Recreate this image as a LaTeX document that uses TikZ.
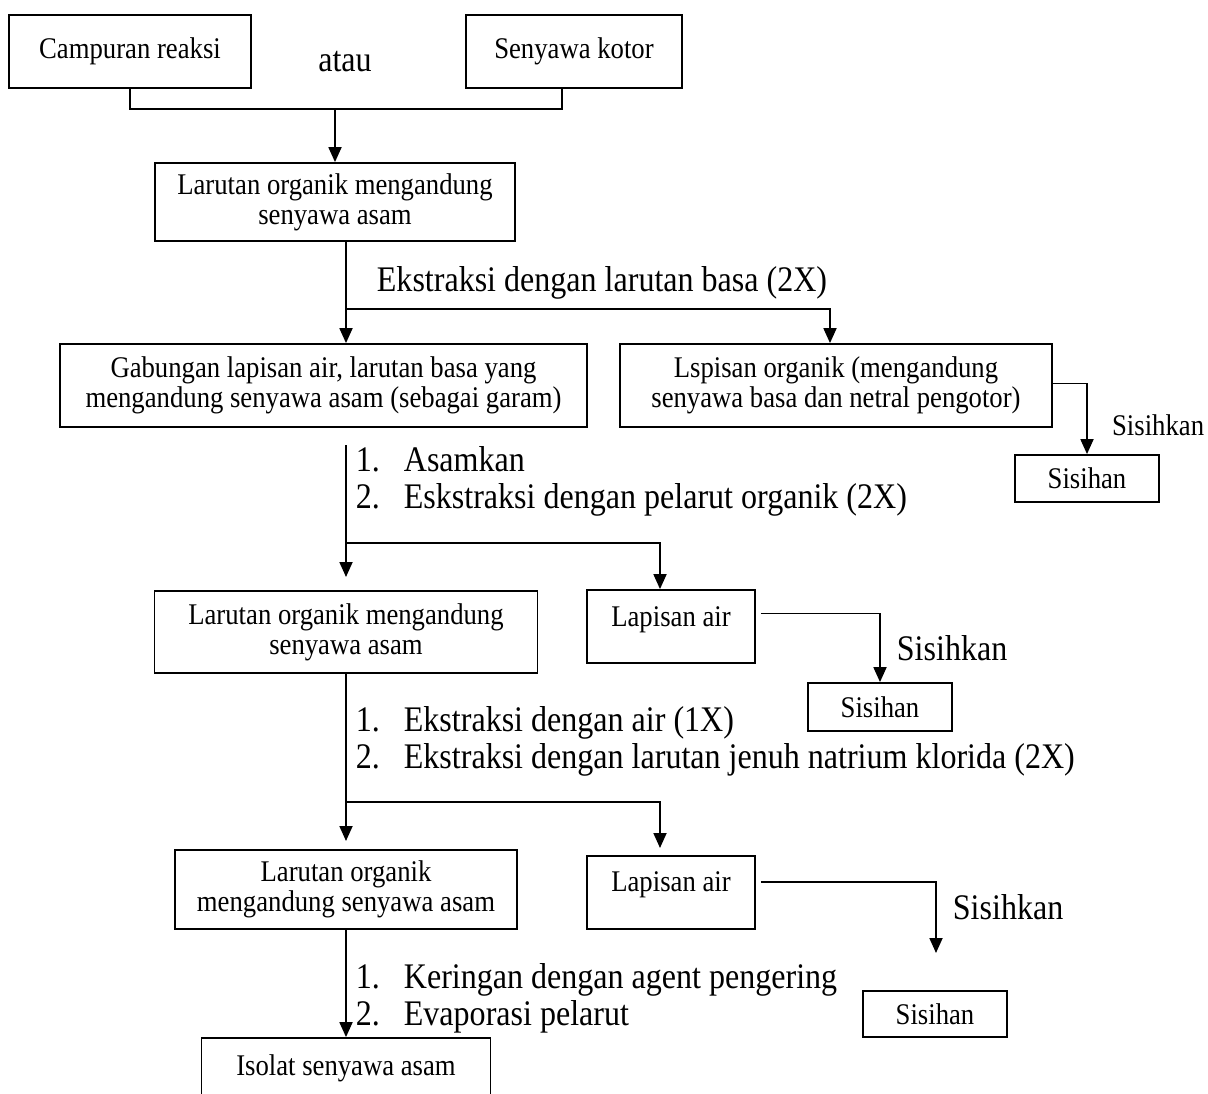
\documentclass[tikz,border=0pt]{standalone}
\usepackage{fontspec}
\setmainfont{Liberation Serif}[FakeStretch=0.89]
\usetikzlibrary{arrows.meta,calc}
\newcommand\bfs{\fontsize{30}{30}\selectfont}
\newcommand\lfs{\fontsize{36}{37}\selectfont}
\newcommand\itm[1]{\makebox[48pt][l]{#1}}
\begin{document}
\begin{tikzpicture}[x=1pt,y=-1pt,
  line width=1.8pt,
  box/.style={draw, line width=1.8pt, inner sep=0pt, align=center, font=\bfs},
  lst/.style={inner sep=0pt, align=left, font=\lfs, anchor=west},
  lbl/.style={inner sep=0pt, font=\bfs, anchor=west},
  arr/.style={-{Triangle[length=15pt,width=13pt]}},
]
\clip (0,0) rectangle (1208,1093);
\fill[white] (0,0) rectangle (1208,1093);

% boxes
\node[box, minimum width=242pt, minimum height=73pt] (A) at (130,51.5) {Campuran reaksi};
\node[box, minimum width=216pt, minimum height=73pt] (B) at (574,51.5) {Senyawa kotor};
\node[lst, anchor=center] (atau) at (345,62) {atau};
\node[box, minimum width=360pt, minimum height=78pt] (C) at (335,202) {Larutan organik mengandung\\senyawa asam};
\node[box, minimum width=527pt, minimum height=83pt] (D) at (323.5,385.5) {Gabungan lapisan air, larutan basa yang\\mengandung senyawa asam (sebagai garam)};
\node[box, minimum width=432pt, minimum height=83pt] (E) at (836,385.5) {Lspisan organik (mengandung\\senyawa basa dan netral pengotor)};
\node[box, minimum width=144pt, minimum height=47pt] (S1) at (1087,478.5) {Sisihan};
\node[box, minimum width=383pt, minimum height=82pt] (F) at (346,632) {Larutan organik mengandung\\senyawa asam};
\node[box, minimum width=168pt, minimum height=73pt, text depth=20pt] (G) at (671,626.5) {Lapisan air};
\node[box, minimum width=144pt, minimum height=48pt] (S2) at (880,707) {Sisihan};
\node[box, minimum width=342pt, minimum height=79pt] (H) at (346,889.5) {Larutan organik\\mengandung senyawa asam};
\node[box, minimum width=168pt, minimum height=73pt, text depth=22pt] (I) at (671,892.5) {Lapisan air};
\node[box, minimum width=144pt, minimum height=46pt] (S3) at (935,1014) {Sisihan};
\node[box, minimum width=289pt, minimum height=60pt] (J) at (346,1068) {Isolat senyawa asam};

% labels
\node[lst] (e1) at (376,283) {Ekstraksi dengan larutan basa (2X)};
\node[lbl, anchor=east] (k1) at (1205,425) {Sisihkan};
\node[lst] (L1) at (355,481.5) {\itm{1.}Asamkan\\\itm{2.}Eskstraksi dengan pelarut organik (2X)};
\node[lst] (k2) at (896,648) {Sisihkan};
\node[lst] (L2) at (355,741) {\itm{1.}Ekstraksi dengan air (1X)\\\itm{2.}Ekstraksi dengan larutan jenuh natrium klorida (2X)};
\node[lst] (k3) at (952,907) {Sisihkan};
\node[lst] (L3) at (355,998.5) {\itm{1.}Keringan dengan agent pengering\\\itm{2.}Evaporasi pelarut};

% connectors
\coordinate (j1) at (335,109);
\draw (A.south) |- (j1) -| ([xshift=-12pt]B.south);
\draw[arr] (j1) -- (j1 |- C.north);

\coordinate (b1) at (346,309);
\coordinate (b1r) at (830,309);
\draw ([xshift=11pt]C.south) -- (b1);
\draw[arr] (b1) -- (b1 |- D.north);
\draw[arr] (b1) -- (b1r) -- (b1r |- E.north);
\draw[arr] ([yshift=2pt]E.east) -| (S1.north);

\coordinate (t2) at (346,445);
\coordinate (b2) at (346,543);
\coordinate (b2r) at (660,543);
\coordinate (f2) at (346,577);
\draw (t2) -- (b2);
\draw[arr] (b2) -- (f2);
\draw[arr] (b2) -- (b2r) -- (b2r |- G.north);
\draw[arr] ([shift={(5pt,13pt)}]G.east) -| (S2.north);

\coordinate (b3) at (346,802);
\coordinate (b3r) at (660,802);
\coordinate (f3) at (346,841);
\coordinate (f3r) at (660,848);
\coordinate (s3t) at (936,953);
\draw (F.south) -- (b3);
\draw[arr] (b3) -- (f3);
\draw[arr] (b3) -- (b3r) -- (f3r);
\draw[arr] ([shift={(5pt,10.5pt)}]I.east) -| (s3t);
\draw[arr] (H.south) -- (J.north);
\end{tikzpicture}
\end{document}
